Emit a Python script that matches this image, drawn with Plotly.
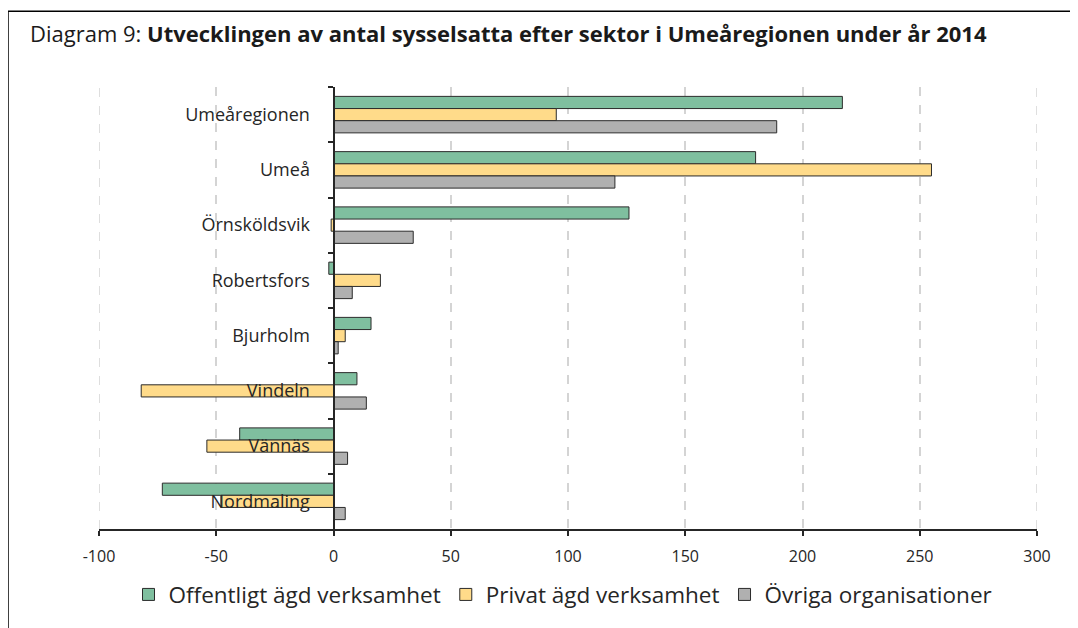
import plotly.graph_objects as go

categories = ["Umeåregionen", "Umeå", "Örnsköldsvik", "Robertsfors",
              "Bjurholm", "Vindeln", "Vännäs", "Nordmaling"]
offentligt = [217, 180, 126, -2, 16, 10, -40, -73]
privat = [95, 255, -1, 20, 5, -82, -54, -48]
ovriga = [189, 120, 34, 8, 2, 14, 6, 5]
series_names = ["Offentligt ägd verksamhet", "Privat ägd verksamhet", "Övriga organisationer"]
colors = ["#7fbf9f", "#ffdb8a", "#b0b0b0"]
x_ticks = [-100, -50, 0, 50, 100, 150, 200, 250, 300]

# page body has an 8px margin; figure coordinates are screen - 8
OFF = 8
W, H = 1070, 620
L, T = 99 - OFF, 87 - OFF
R = W - (1037 - OFF)
B = H - (537 - OFF)
pw, ph = W - L - R, H - T - B

def px2paper(x, y):
    x -= OFF
    y -= OFF
    return (x - L) / pw, 1 - (y - T) / ph

fig = go.Figure()
for name, vals, c in zip(series_names, [offentligt, privat, ovriga], colors):
    fig.add_trace(go.Bar(
        y=categories, x=vals, name=name, orientation="h",
        marker=dict(color=c, line=dict(color="#2b2b2b", width=1)),
    ))

# frame lines
x0, y0 = px2paper(8, 10)
x1, _ = px2paper(1100, 10)
_, y1 = px2paper(8, 660)
fig.add_shape(type="line", xref="paper", yref="paper", x0=x0, y0=y0, x1=x1, y1=y0,
              line=dict(color="#000000", width=1.5))
fig.add_shape(type="line", xref="paper", yref="paper", x0=x0, y0=y0, x1=x0, y1=y1,
              line=dict(color="#000000", width=1.5))
# edge gridlines (plotly skips gridlines at the plot edges)
for xv in (x_ticks[0], x_ticks[-1]):
    fig.add_shape(type="line", xref="x", yref="paper", x0=xv, x1=xv, y0=0, y1=1,
                  line=dict(color="#d4d4d4", width=1.5, dash="dash"), layer="below")

lx, ly = px2paper(563, 604)

fig.update_layout(
    width=W, height=H,
    margin=dict(l=L, r=R, t=T, b=B),
    paper_bgcolor="white", plot_bgcolor="white",
    barmode="group", bargap=0.34, bargroupgap=0,
    font=dict(family="Open Sans", color="#262626"),
    title=dict(
        text="Diagram 9: <b>Utvecklingen av antal sysselsatta efter sektor i Umeåregionen under år 2014</b>",
        x=(30 - OFF) / W, xanchor="left", y=1 - (34 - OFF) / H, yanchor="middle",
        font=dict(family="Open Sans", size=22, color="#1a1a1a"),
    ),
    xaxis=dict(
        range=[-100, 300], tickvals=x_ticks, ticktext=[str(v) for v in x_ticks],
        showgrid=True, gridcolor="#d4d4d4", griddash="dash", gridwidth=1.5,
        zeroline=False, showline=True, linecolor="#262626", linewidth=2,
        ticks="outside", ticklen=5, tickcolor="#262626", tickwidth=2,
        tickfont=dict(size=16, color="#262626"),
        ticklabelstandoff=7,
    ),
    yaxis=dict(
        categoryorder="array", categoryarray=categories, autorange="reversed",
        anchor="free", position=0.25,
        showline=True, linecolor="#262626", linewidth=2,
        ticks="outside", tickson="boundaries", ticklen=5, tickcolor="#262626", tickwidth=2,
        showgrid=False, zeroline=False,
        tickfont=dict(size=18, color="#262626"),
        ticklabelstandoff=19,
    ),
    legend=dict(
        orientation="h", x=lx, xanchor="center",
        y=ly, yanchor="middle",
        font=dict(size=22.5, color="#262626"), traceorder="normal",
        itemwidth=30,
    ),
)

fig.write_html("out.html")
